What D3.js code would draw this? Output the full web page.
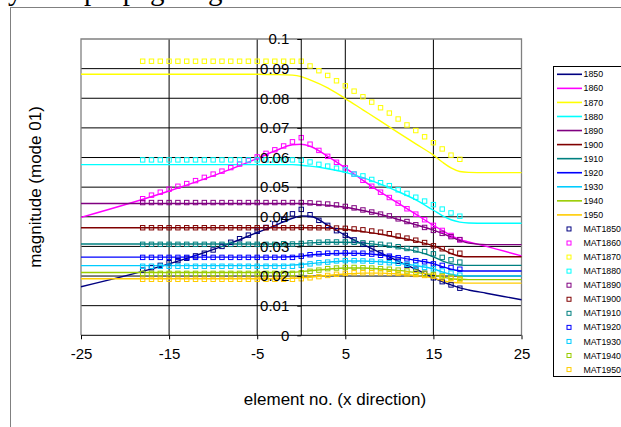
<!DOCTYPE html>
<html>
<head>
<meta charset="utf-8">
<script src="https://cdn.jsdelivr.net/npm/d3@7"></script>
<style>
  body { margin: 0; background: #fff; }
  svg { display: block; font-family: "Liberation Sans", Arial, sans-serif; }
</style>
</head>
<body>
<div class="canvas"></div>
<script>
// series names and colours
const years = ['1850', '1860', '1870', '1880', '1890', '1900', '1910', '1920', '1930', '1940', '1950']
const colours = ['#000080', '#ff00ff', '#ffff00', '#00ffff', '#800080', '#800000', '#008080', '#0000ff', '#00ccff', '#99cc00', '#ffcc00']

// x positions of the curve samples and of the MAT markers
const lineX = [-25, -15, -8, -5, -3, -1, 0, 1, 3, 5, 7, 9, 11, 13, 15, 16, 17, 18, 19, 21, 25]
const matX = [-18, -17, -16, -15, -14, -13, -12, -11, -10, -9, -8, -7, -6, -5, -4, -3, -2, -1, 0,
  1, 2, 3, 4, 5, 6, 7, 8, 9, 10, 11, 12, 13, 14, 15, 16, 17, 18]

// curves
const line1850 = [0.0164, 0.0241, 0.0311, 0.0347, 0.0370, 0.0395, 0.0403, 0.0402, 0.0372, 0.0337, 0.0307, 0.0278, 0.0250, 0.0223, 0.0194, 0.0181, 0.0170, 0.0160, 0.0153, 0.0142, 0.0120]
const line1860 = [0.0398, 0.0487, 0.0561, 0.0597, 0.0622, 0.0643, 0.0645, 0.0638, 0.0604, 0.0565, 0.0523, 0.0483, 0.0446, 0.0409, 0.0371, 0.0354, 0.0337, 0.0323, 0.0315, 0.0300, 0.0268]
const line1870 = [0.0881, 0.0881, 0.0881, 0.0881, 0.0880, 0.0878, 0.0873, 0.0862, 0.0835, 0.0799, 0.0761, 0.0723, 0.0684, 0.0646, 0.0608, 0.0585, 0.0565, 0.0553, 0.0550, 0.0549, 0.0549]
const line1880 = [0.0576, 0.0576, 0.0576, 0.0576, 0.0576, 0.0576, 0.0574, 0.0571, 0.0562, 0.0550, 0.0532, 0.0510, 0.0485, 0.0457, 0.0422, 0.0404, 0.0390, 0.0382, 0.0379, 0.0378, 0.0378]
const line1890 = [0.0445, 0.0445, 0.0445, 0.0445, 0.0445, 0.0445, 0.0445, 0.0443, 0.0439, 0.0432, 0.0421, 0.0408, 0.0391, 0.0373, 0.0355, 0.0344, 0.0332, 0.0320, 0.0311, 0.0306, 0.0306]
const line1900 = [0.0363, 0.0363, 0.0363, 0.0363, 0.0363, 0.0363, 0.0363, 0.0363, 0.0362, 0.0358, 0.0350, 0.0341, 0.0330, 0.0318, 0.0302, 0.0290, 0.0276, 0.0267, 0.0265, 0.0265, 0.0265]
const line1910 = [0.0308, 0.0308, 0.0308, 0.0308, 0.0308, 0.0309, 0.0310, 0.0312, 0.0314, 0.0314, 0.0311, 0.0305, 0.0296, 0.0284, 0.0265, 0.0251, 0.0242, 0.0237, 0.0236, 0.0236, 0.0236]
const line1920 = [0.0264, 0.0264, 0.0264, 0.0264, 0.0264, 0.0265, 0.0267, 0.0271, 0.0275, 0.0277, 0.0276, 0.0271, 0.0263, 0.0253, 0.0242, 0.0232, 0.0223, 0.0218, 0.0217, 0.0217, 0.0217]
const line1930 = [0.0235, 0.0235, 0.0235, 0.0235, 0.0235, 0.0237, 0.0239, 0.0242, 0.0247, 0.0251, 0.0251, 0.0248, 0.0243, 0.0235, 0.0224, 0.0214, 0.0206, 0.0201, 0.0200, 0.0200, 0.0200]
const line1940 = [0.0212, 0.0212, 0.0212, 0.0212, 0.0212, 0.0213, 0.0215, 0.0218, 0.0223, 0.0227, 0.0227, 0.0224, 0.0219, 0.0212, 0.0204, 0.0197, 0.0191, 0.0189, 0.0188, 0.0188, 0.0188]
const line1950 = [0.0191, 0.0191, 0.0191, 0.0191, 0.0191, 0.0192, 0.0194, 0.0196, 0.0202, 0.0207, 0.0210, 0.0210, 0.0207, 0.0202, 0.0193, 0.0185, 0.0179, 0.0177, 0.0176, 0.0176, 0.0176]

// MAT markers
const mat1850 = [0.0220, 0.0228, 0.0236, 0.0245, 0.0252, 0.0260, 0.0268, 0.0277, 0.0288, 0.0300, 0.0314, 0.0326, 0.0338, 0.0351, 0.0364, 0.0376, 0.0391, 0.0410, 0.0425,
  0.0407, 0.0388, 0.0371, 0.0353, 0.0337, 0.0322, 0.0307, 0.0292, 0.0278, 0.0263, 0.0250, 0.0236, 0.0223, 0.0209, 0.0194, 0.0181, 0.0170, 0.0159]
const mat1860 = [0.0461, 0.0473, 0.0483, 0.0493, 0.0503, 0.0512, 0.0522, 0.0533, 0.0544, 0.0554, 0.0566, 0.0578, 0.0590, 0.0602, 0.0614, 0.0626, 0.0639, 0.0653, 0.0667,
  0.0645, 0.0624, 0.0604, 0.0584, 0.0565, 0.0544, 0.0523, 0.0503, 0.0483, 0.0465, 0.0446, 0.0427, 0.0409, 0.0390, 0.0371, 0.0354, 0.0337, 0.0322]
const mat1870 = [0.0925, 0.0925, 0.0925, 0.0925, 0.0925, 0.0925, 0.0925, 0.0925, 0.0925, 0.0925, 0.0925, 0.0925, 0.0925, 0.0925, 0.0925, 0.0925, 0.0925, 0.0925, 0.0925,
  0.0909, 0.0893, 0.0877, 0.0859, 0.0842, 0.0824, 0.0805, 0.0787, 0.0768, 0.0750, 0.0730, 0.0710, 0.0691, 0.0670, 0.0650, 0.0629, 0.0608, 0.0594]
const mat1880 = [0.0592, 0.0592, 0.0592, 0.0592, 0.0592, 0.0592, 0.0592, 0.0592, 0.0592, 0.0592, 0.0592, 0.0592, 0.0592, 0.0592, 0.0592, 0.0592, 0.0592, 0.0592, 0.0591,
  0.0585, 0.0577, 0.0571, 0.0564, 0.0558, 0.0544, 0.0538, 0.0526, 0.0515, 0.0505, 0.0491, 0.0479, 0.0466, 0.0453, 0.0441, 0.0426, 0.0413, 0.0402]
const mat1890 = [0.0448, 0.0448, 0.0448, 0.0448, 0.0448, 0.0448, 0.0448, 0.0448, 0.0448, 0.0448, 0.0448, 0.0448, 0.0448, 0.0448, 0.0448, 0.0448, 0.0448, 0.0448, 0.0448,
  0.0447, 0.0445, 0.0443, 0.0440, 0.0435, 0.0430, 0.0423, 0.0416, 0.0409, 0.0403, 0.0393, 0.0384, 0.0373, 0.0364, 0.0354, 0.0344, 0.0333, 0.0323]
const mat1900 = [0.0363, 0.0363, 0.0363, 0.0363, 0.0363, 0.0363, 0.0363, 0.0363, 0.0363, 0.0363, 0.0363, 0.0363, 0.0363, 0.0363, 0.0363, 0.0363, 0.0363, 0.0363, 0.0364,
  0.0363, 0.0363, 0.0363, 0.0362, 0.0361, 0.0359, 0.0356, 0.0352, 0.0348, 0.0343, 0.0335, 0.0328, 0.0321, 0.0313, 0.0302, 0.0292, 0.0283, 0.0277]
const mat1910 = [0.0307, 0.0307, 0.0307, 0.0307, 0.0307, 0.0307, 0.0307, 0.0307, 0.0307, 0.0307, 0.0307, 0.0307, 0.0307, 0.0307, 0.0307, 0.0307, 0.0309, 0.0308, 0.0310,
  0.0312, 0.0314, 0.0315, 0.0315, 0.0315, 0.0314, 0.0312, 0.0310, 0.0307, 0.0304, 0.0299, 0.0293, 0.0288, 0.0283, 0.0275, 0.0263, 0.0255, 0.0247]
const mat1920 = [0.0263, 0.0263, 0.0263, 0.0263, 0.0263, 0.0263, 0.0263, 0.0263, 0.0263, 0.0263, 0.0263, 0.0263, 0.0263, 0.0263, 0.0263, 0.0263, 0.0263, 0.0263, 0.0267,
  0.0272, 0.0275, 0.0277, 0.0278, 0.0278, 0.0277, 0.0277, 0.0274, 0.0270, 0.0267, 0.0262, 0.0258, 0.0252, 0.0248, 0.0241, 0.0236, 0.0229, 0.0223]
const mat1930 = [0.0233, 0.0233, 0.0233, 0.0233, 0.0233, 0.0233, 0.0233, 0.0233, 0.0233, 0.0233, 0.0233, 0.0233, 0.0233, 0.0233, 0.0233, 0.0233, 0.0233, 0.0233, 0.0236,
  0.0241, 0.0245, 0.0247, 0.0251, 0.0252, 0.0252, 0.0251, 0.0250, 0.0247, 0.0245, 0.0243, 0.0240, 0.0234, 0.0229, 0.0224, 0.0217, 0.0210, 0.0203]
const mat1940 = [0.0209, 0.0209, 0.0209, 0.0209, 0.0209, 0.0209, 0.0209, 0.0209, 0.0209, 0.0209, 0.0209, 0.0209, 0.0209, 0.0209, 0.0209, 0.0209, 0.0209, 0.0209, 0.0211,
  0.0216, 0.0220, 0.0225, 0.0227, 0.0229, 0.0229, 0.0228, 0.0227, 0.0225, 0.0223, 0.0220, 0.0217, 0.0213, 0.0209, 0.0205, 0.0200, 0.0196, 0.0192]
const mat1950 = [0.0189, 0.0189, 0.0189, 0.0189, 0.0189, 0.0189, 0.0189, 0.0189, 0.0189, 0.0189, 0.0189, 0.0189, 0.0189, 0.0189, 0.0189, 0.0189, 0.0189, 0.0189, 0.0191,
  0.0194, 0.0198, 0.0202, 0.0206, 0.0209, 0.0211, 0.0211, 0.0211, 0.0211, 0.0210, 0.0209, 0.0207, 0.0205, 0.0202, 0.0200, 0.0197, 0.0192, 0.0188]

// axis ticks
const xTicks = [-25, -15, -5, 5, 15, 25]
const yTicks = [0, 0.01, 0.02, 0.03, 0.04, 0.05, 0.06, 0.07, 0.08, 0.09, 0.1]

const lines = [line1850, line1860, line1870, line1880, line1890, line1900, line1910, line1920, line1930, line1940, line1950]
const mats = [mat1850, mat1860, mat1870, mat1880, mat1890, mat1900, mat1910, mat1920, mat1930, mat1940, mat1950]

const lineSeries = years.map((yr, i) => ({
  name: yr, colour: colours[i], values: lineX.map((x, j) => ({x, y: lines[i][j]}))
}))
const matSeries = years.map((yr, i) => ({
  name: 'MAT' + yr, colour: colours[i], values: matX.map((x, j) => ({x, y: mats[i][j]}))
}))

const svg = d3.select('.canvas')
  .append('svg')
    .attr('width', 621)
    .attr('height', 427)

// bottom of the document line above the chart (cut by the page edge)
const docText = svg.append('text')
  .attr('y', 0)
  .attr('font-family', '"Liberation Serif", "Times New Roman", serif')
  .attr('font-size', 29)
  .attr('fill', '#000')
docText.append('tspan').attr('x', 0).text('ly')
docText.append('tspan').attr('x', 84).text('propagating')
docText.append('tspan').attr('x', 250).text('mode')

// chart area border
svg.append('rect')
  .attr('x', 10.5)
  .attr('y', 7.5)
  .attr('width', 700)
  .attr('height', 500)
  .attr('fill', 'none')
  .attr('stroke', '#808080')
  .attr('stroke-width', 1)

const plot = {left: 81, right: 521.5, top: 39, bottom: 335.3}

const x = d3.scaleLinear()
  .domain([-25, 25])
  .range([plot.left, plot.right])

const y = d3.scaleLinear()
  .domain([0, 0.1])
  .range([plot.bottom, plot.top])

// gridlines
const grid = svg.append('g')
grid.selectAll('line.h')
  .data(yTicks.filter(d => d > 0 && d < 0.1))
  .enter()
  .append('line')
    .attr('x1', plot.left)
    .attr('x2', plot.right)
    .attr('y1', d => y(d))
    .attr('y2', d => y(d))
    .attr('stroke', '#000')
    .attr('stroke-width', 1)
grid.selectAll('line.v')
  .data(xTicks.filter(d => d > -25 && d < 25))
  .enter()
  .append('line')
    .attr('x1', d => x(d))
    .attr('x2', d => x(d))
    .attr('y1', plot.top)
    .attr('y2', plot.bottom)
    .attr('stroke', '#000')
    .attr('stroke-width', 1)

// plot area border (left, top, right)
svg.append('path')
  .attr('d', `M${plot.left},${plot.bottom}V${plot.top}H${plot.right}V${plot.bottom}`)
  .attr('fill', 'none')
  .attr('stroke', '#808080')
  .attr('stroke-width', 1.3)

// curves
const linePath = d3.line()
  .x(d => x(d.x))
  .y(d => y(d.y))
  .curve(d3.curveMonotoneX)

svg.append('g')
  .selectAll('path')
  .data(lineSeries)
  .enter()
  .append('path')
    .attr('d', d => linePath(d.values))
    .attr('fill', 'none')
    .attr('stroke', d => d.colour)
    .attr('stroke-width', 1.4)

// markers
const ms = 4.4
const matGroups = svg.append('g')
  .selectAll('g')
  .data(matSeries)
  .enter()
  .append('g')
    .attr('stroke', d => d.colour)
matGroups.selectAll('rect')
  .data(d => d.values)
  .enter()
  .append('rect')
    .attr('x', d => x(d.x) - ms / 2)
    .attr('y', d => y(d.y) - ms / 2)
    .attr('width', ms)
    .attr('height', ms)
    .attr('fill', 'none')
    .attr('stroke-width', 1)

// axes
const xAxisGroup = svg.append('g')
  .attr('transform', `translate(0, ${plot.bottom})`)
const yAxisGroup = svg.append('g')
  .attr('transform', `translate(${x(0)}, 0)`)

const xAxis = d3.axisBottom(x)
  .tickValues(xTicks)
  .tickSize(4)
  .tickPadding(9)
  .tickFormat(d => d)
const yAxis = d3.axisLeft(y)
  .tickValues(yTicks)
  .tickSize(4)
  .tickPadding(8)
  .tickFormat(d => d)

xAxisGroup.call(xAxis)
yAxisGroup.call(yAxis)

svg.selectAll('.domain').remove()
svg.selectAll('.tick line').attr('stroke', '#000')
svg.selectAll('.tick text')
  .attr('font-size', 15)
  .attr('font-family', '"Liberation Sans", Arial, sans-serif')
  .attr('fill', '#000')

xAxisGroup.append('line')
  .attr('x1', plot.left)
  .attr('x2', plot.right)
  .attr('stroke', '#000')
yAxisGroup.append('line')
  .attr('y1', plot.top)
  .attr('y2', plot.bottom)
  .attr('stroke', '#000')

// axis titles
svg.append('text')
  .attr('x', 335)
  .attr('y', 405)
  .attr('text-anchor', 'middle')
  .attr('font-size', 17)
  .text('element no. (x direction)')

svg.append('text')
  .attr('transform', 'translate(41, 187) rotate(-90)')
  .attr('text-anchor', 'middle')
  .attr('font-size', 17)
  .text('magnitude (mode 01)')

// legend
const legendGroup = svg.append('g')
  .attr('transform', 'translate(553, 66)')
legendGroup.append('rect')
  .attr('x', 0.5)
  .attr('y', 0.5)
  .attr('width', 120)
  .attr('height', 310)
  .attr('fill', '#fff')
  .attr('stroke', '#000')

const legendItems = lineSeries.map(d => ({name: d.name, colour: d.colour, type: 'line'}))
  .concat(matSeries.map(d => ({name: d.name, colour: d.colour, type: 'mark'})))

const items = legendGroup.selectAll('g')
  .data(legendItems)
  .enter()
  .append('g')
    .attr('transform', (d, i) => `translate(0, ${8.3 + i * 14.06})`)

items.filter(d => d.type === 'line')
  .append('line')
    .attr('x1', 4)
    .attr('x2', 29)
    .attr('stroke', d => d.colour)
    .attr('stroke-width', 1.6)
items.filter(d => d.type === 'mark')
  .append('rect')
    .attr('x', 14)
    .attr('y', -2)
    .attr('width', 4)
    .attr('height', 4)
    .attr('fill', 'none')
    .attr('stroke', d => d.colour)
items.append('text')
  .attr('x', 30.5)
  .attr('dy', '0.35em')
  .attr('font-size', 8.8)
  .attr('fill', '#000')
  .text(d => d.name)
</script>
</body>
</html>
